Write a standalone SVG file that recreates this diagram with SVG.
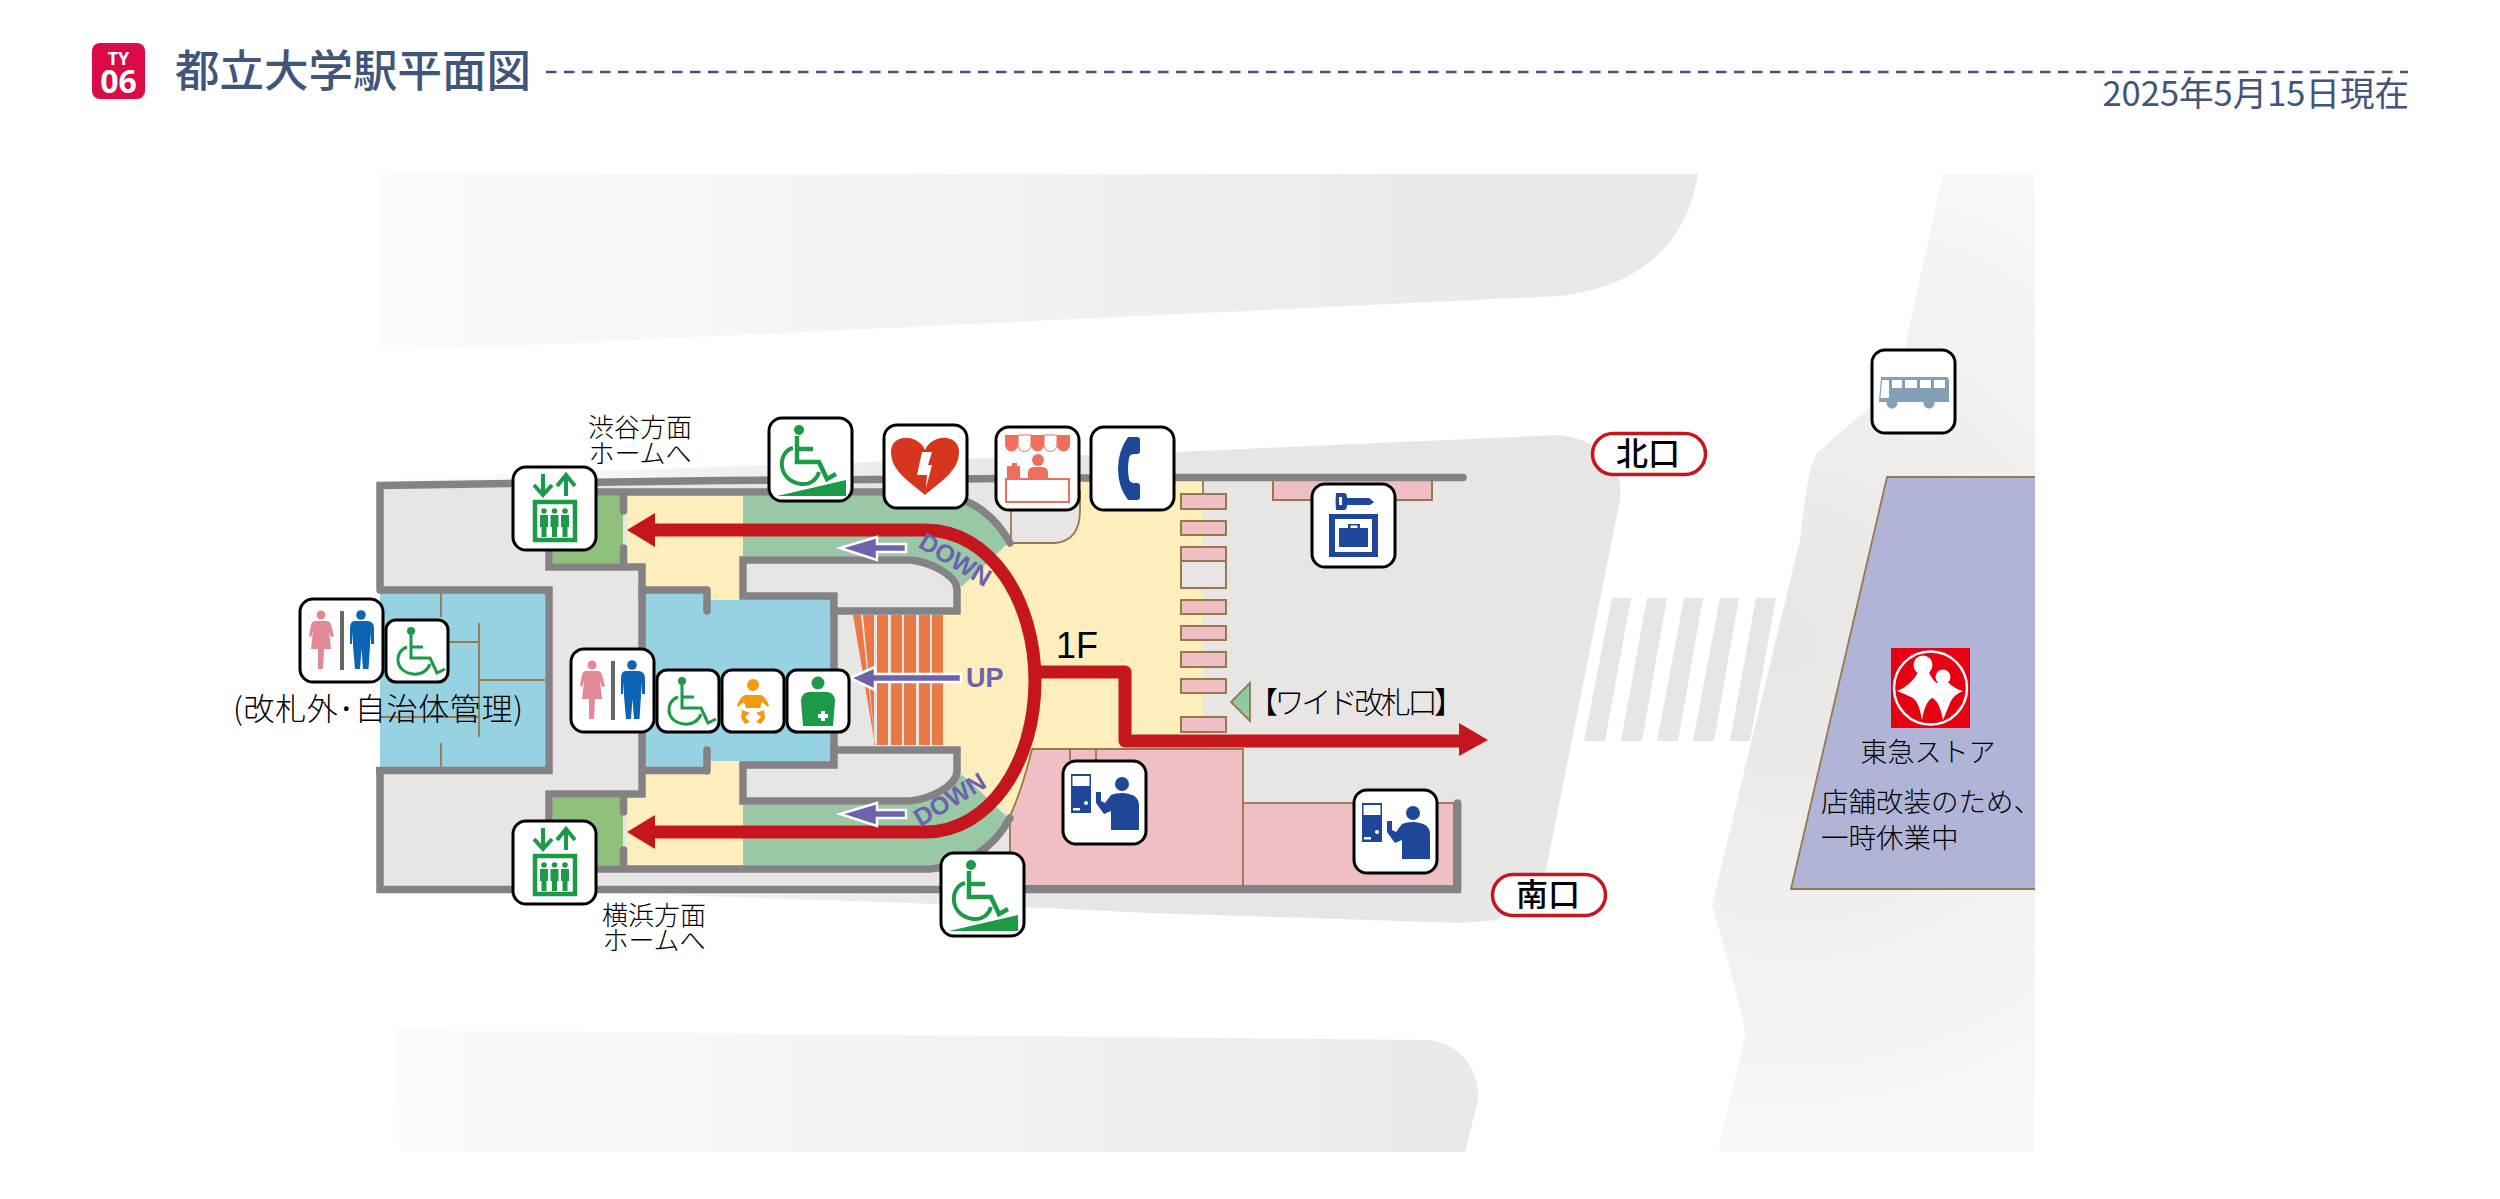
<svg xmlns="http://www.w3.org/2000/svg" xmlns:xlink="http://www.w3.org/1999/xlink" width="2500" height="1199" viewBox="0 0 2500 1199">
<style>
text{font-family:"Noto Sans CJK JP","Noto Sans",sans-serif;fill:#000}
.wall{fill:none;stroke:#848284;stroke-width:7.5;stroke-linejoin:miter}
.rc{stroke-linecap:round}
.line{stroke:#96794f;stroke-width:1.8;fill:none}
.gate{fill:#efbfc3;stroke:#96794f;stroke-width:2}
.route{fill:none;stroke:#c5161d;stroke-width:13;stroke-linejoin:round}
.rhead{fill:#c5161d}
.parrow{fill:#6f62ad;stroke:#fff;stroke-width:2.5;stroke-linejoin:miter}
.plabel{font-family:"Liberation Sans",sans-serif;font-weight:700;fill:#6f62ad}
.lab{font-size:26px;text-anchor:middle;font-weight:300}
.exitp{fill:#fff;stroke:#c5161d;stroke-width:3.5}
.exitt{font-size:32px;font-weight:500;text-anchor:middle;fill:#000}
.ib{fill:#fff;stroke:#000;stroke-width:3}
.g{fill:#1d9a48}.gs{fill:none;stroke:#1d9a48}
.b{fill:#1f4799}.s{fill:#ee6f5e}
</style>
<defs>
<linearGradient id="gMain" gradientUnits="userSpaceOnUse" x1="380" y1="0" x2="1050" y2="0"><stop offset="0" stop-color="#fff"/><stop offset="0.5" stop-color="#f3f1f0"/><stop offset="1" stop-color="#e8e6e5"/></linearGradient>
<linearGradient id="gRoad" gradientUnits="userSpaceOnUse" x1="380" y1="0" x2="1500" y2="0"><stop offset="0" stop-color="#fcfbfb"/><stop offset="1" stop-color="#ebe9e8"/></linearGradient>
<radialGradient id="gRight" gradientUnits="userSpaceOnUse" cx="1790" cy="640" r="520"><stop offset="0" stop-color="#e8e6e5"/><stop offset="1" stop-color="#f9f8f7"/></radialGradient>
<symbol id="i-ev" viewBox="0 0 83 83" overflow="visible">
 <rect class="ib" x="0" y="0" width="83" height="83" rx="13"/>
 <path class="gs" stroke-width="4" d="M30,7V26M21,18L30,28L39,18M53,29V9M44,19L53,8L62,19"/>
 <rect class="gs" stroke-width="4.5" x="22" y="35" width="40" height="38"/>
 <g class="g"><circle cx="31" cy="44" r="2.8"/><circle cx="41.5" cy="44" r="2.8"/><circle cx="52" cy="44" r="2.8"/>
 <path d="M27,48h8v12h-1.5v10h-5v-10H27zM37.5,48h8v12h-1.500v10h-5v-10H37.500zM48,48h8v12h-1.500v10h-5v-10H48z"/></g>
</symbol>
<symbol id="i-ramp" viewBox="0 0 83 83" overflow="visible">
 <rect class="ib" x="0" y="0" width="83" height="83" rx="13"/>
 <circle class="g" cx="30" cy="12" r="5"/>
 <path class="gs" stroke-width="4.500" d="M28,18V44H50L58,61L67,56M28,31H44"/>
 <path class="gs" stroke-width="4" d="M24,30C8,34 8,63 32,66C42,67 48,61 50,54"/>
 <path class="g" d="M8,78L77,62V78Z"/>
</symbol>
<symbol id="i-aed" viewBox="0 0 83 83" overflow="visible">
 <rect class="ib" x="0" y="0" width="83" height="83" rx="13"/>
 <path fill="#d6361d" d="M41,70C26,57 7,46 7,27C7,9 33,8 41,25C49,8 75,9 75,27C75,46 56,57 41,70Z"/>
 <path fill="#fff" d="M38,27H48L44,40H48L42,63L43,50H33Z"/>
</symbol>
<symbol id="i-shop" viewBox="0 0 83 83" overflow="visible">
 <rect class="ib" x="0" y="0" width="83" height="83" rx="13"/>
 <path class="s" d="M9,8H22V18a6.500,6.500 0 0 1 -13,0ZM35,8H48V18a6.500,6.500 0 0 1 -13,0ZM61,8H74V18a6.500,6.500 0 0 1 -13,0Z"/>
 <path fill="none" stroke="#ee6f5e" stroke-width="1" d="M22,8H35V18a6.500,6.500 0 0 1 -13,0ZM48,8H61V18a6.500,6.500 0 0 1 -13,0Z"/>
 <circle class="s" cx="42" cy="33" r="6"/>
 <path class="s" d="M32,52V46Q32,40 38,40H46Q52,40 52,46V52ZM11,39H16V36H21V39H24V52H11Z"/>
 <rect x="10" y="52" width="63" height="23" fill="#fff" stroke="#ee6f5e" stroke-width="2"/>
</symbol>
<symbol id="i-tel" viewBox="0 0 83 83" overflow="visible">
 <rect class="ib" x="0" y="0" width="83" height="83" rx="13"/>
 <path class="b" d="M37,10H46Q49,10 49,13V24Q49,27 46,27H43Q39,27 38,31Q36,42 38,52Q39,56 43,56H46Q49,56 49,59V70Q49,73 46,73H37Q27,60 27,42Q27,24 37,10Z"/>
</symbol>
<symbol id="i-locker" viewBox="0 0 83 83" overflow="visible">
 <rect class="ib" x="0" y="0" width="83" height="83" rx="13"/>
 <path class="b" d="M24,9H32Q35,9 35,14H57L62,18L58,21H35Q35,26 32,26H24Q23,17 24,9Z"/>
 <rect x="27" y="13" width="3" height="8" fill="#fff"/>
 <path class="b" fill-rule="evenodd" d="M17,30H66V73H17ZM23,35V68H60V35Z"/>
 <path class="b" d="M27,44H36V40H48V44H56V63H27Z"/>
 <rect x="38.500" y="41.500" width="7" height="2.500" fill="#fff"/>
</symbol>
<symbol id="i-ticket" viewBox="0 0 83 83" overflow="visible">
 <rect class="ib" x="0" y="0" width="83" height="83" rx="13"/>
 <path class="b" d="M8,13H28V52H8Z"/>
 <rect x="9.500" y="15" width="17" height="10" fill="#fff"/>
 <circle cx="23" cy="42" r="2" fill="#fff"/><rect x="10" y="47" width="7" height="2.500" fill="#fff"/>
 <circle class="b" cx="59" cy="23" r="7"/>
 <path class="b" d="M33,31H38V40L42,42L48,34Q52,32 60,32Q76,33 76,44V69H48V50L41,53L33,42Z"/>
</symbol>
<symbol id="i-bus" viewBox="0 0 83 83" overflow="visible">
 <rect class="ib" x="0" y="0" width="83" height="83" rx="13"/>
 <path fill="#84a0b6" d="M9,27H74Q77,27 77,31V52H7Z"/>
 <circle cx="20" cy="53" r="5.500" fill="#84a0b6"/><circle cx="57" cy="53" r="5.500" fill="#84a0b6"/>
 <path fill="#fff" d="M10,30H17V48H8.500ZM20,30H30V38H20ZM33,30H45V38H33ZM48,30H59V38H48ZM62,30H73V38H62Z"/>
</symbol>
<symbol id="i-wc" viewBox="0 0 83 83" overflow="visible">
 <rect class="ib" x="0" y="0" width="83" height="83" rx="13"/>
 <circle cx="21" cy="16" r="4.500" fill="#e38896"/>
 <path fill="#e38896" d="M15,22H27Q30,22 31,26L34,37L31,38L29,32L31,50H24L23,70H20L18,70V50H11L13,32L11,38L9,37L11,26Q12,22 15,22Z"/>
 <rect x="40" y="12" width="4" height="59" fill="#666"/>
 <circle cx="61" cy="16" r="4.800" fill="#0e64b4"/>
 <path fill="#0e64b4" d="M54,22H68Q74,23 74,29V45H71L70,33V47L68.500,70H63L61.500,50L60,70H55L53,47V33L52,45H50V29Q50,23 54,22Z"/>
</symbol>
<symbol id="i-whl" viewBox="0 0 62 62" overflow="visible">
 <rect class="ib" x="0" y="0" width="62" height="62" rx="10"/>
 <circle class="g" cx="25" cy="11" r="4"/>
 <path class="gs" stroke-width="3" d="M25,14V38H44L51,53L59,49M25,27H37"/>
 <path class="gs" stroke-width="3" d="M21,27C8,31 8,52 27,54C36,55 42,50 44,44"/>
</symbol>
<symbol id="i-baby" viewBox="0 0 62 62" overflow="visible">
 <rect class="ib" x="0" y="0" width="62" height="62" rx="10"/>
 <circle cx="31" cy="15" r="6" fill="#f39a13"/>
 <path fill="#f39a13" d="M23,25H39Q43,26 47,35L46,37L40,32L38,38H24L22,32L16,37L15,35Q19,26 23,25ZM20,40L28,43L23,47L28,52L23,54L19,48ZM42,40L34,43L39,47L34,52L39,54L43,48Z"/>
</symbol>
<symbol id="i-care" viewBox="0 0 62 62" overflow="visible">
 <rect class="ib" x="0" y="0" width="62" height="62" rx="10"/>
 <circle class="g" cx="31" cy="13" r="6.500"/>
 <path class="g" d="M21,22H41Q48,24 48,31L46,56H16L14,31Q14,24 21,22Z"/>
 <path fill="#fff" d="M34,41H38V44H41V48H38V51H34V48H31V44H34Z"/>
</symbol>
</defs>

<rect width="2500" height="1199" fill="#fff"/>

<g id="title">
 <rect x="92" y="43" width="53" height="56" rx="8" fill="#dc0a46"/>
 <text x="118.500" y="65" text-anchor="middle" font-size="18" font-weight="700" style="font-family:'Open Sans',sans-serif;fill:#fff">TY</text>
 <text x="118.500" y="93" text-anchor="middle" font-size="32" font-weight="700" style="font-family:'Open Sans',sans-serif;fill:#fff">06</text>
 <text x="175" y="87" font-size="44.500" font-weight="500" style="fill:#41547a">都立大学駅平面図</text>
 <line x1="546" y1="72" x2="2408" y2="72" stroke="#41547a" stroke-width="2.500" stroke-dasharray="10.500 7.500"/>
 <text x="2409" y="106" font-size="34.500" text-anchor="end" style="fill:#41547a">2025年5月15日現在</text>
</g>

<g id="surroundings">
 <path fill="url(#gRoad)" d="M380,174H1698C1688,235 1650,285 1560,296L382,352Z"/>
 <path fill="url(#gRoad)" d="M395,1030L1430,1040C1465,1045 1480,1075 1478,1100L1465,1152H400Z"/>
 <path fill="url(#gMain)" d="M380,478L1175,452L1560,435Q1625,445 1620,500L1546,870L1497,920L1460,923L1150,913L1023,907L380,885Z"/>
 <path fill="url(#gRight)" d="M1943,174H2035V1152H1718L1745,1036Q1745,1020 1712,905L1800,540Q1807,470 1817,453L1870,407L1905,347Z"/>
 <path fill="#e8e6e5" d="M1612,598H1631L1605,741H1584ZM1647,598H1667L1642,741H1621ZM1684,598H1703L1678,741H1657ZM1720,598H1739L1714,741H1693ZM1756,598H1776L1750,741H1730Z"/>
</g>

<g id="tokyu-store">
 <path fill="#b0b4d6" d="M1887,477H2035V889H1791Z"/>
 <path class="line" d="M2035,477H1887L1791,889H2035"/>
 <rect x="1891" y="648" width="79" height="80" fill="#e60012"/>
 <circle cx="1930.500" cy="688" r="36.500" fill="none" stroke="#fff" stroke-width="2.500"/>
 <circle cx="1923" cy="665" r="9.500" fill="#fff"/><circle cx="1943" cy="677" r="7.500" fill="#fff"/>
 <path fill="#fff" d="M1897,691Q1912,685 1918,672L1929,672Q1932,680 1937,683L1949,683Q1953,688 1963,691Q1953,695 1950,703L1943,720Q1939,700 1932,698Q1925,702 1922,720Q1919,702 1913,698Q1905,694 1897,691Z"/>
 <text x="1928" y="762" font-size="27" text-anchor="middle" font-weight="300">東急ストア</text>
 <text x="1821" y="812" font-size="27.500" font-weight="300">店舗改装のため、</text>
 <text x="1821" y="848" font-size="27.500" font-weight="300">一時休業中</text>
</g>

<g id="station-floor">
 <path fill="#e8e6e5" d="M380,486L720,480L1150,477.500L1203,477.500V893H380Z"/>
 <rect x="380" y="593" width="165" height="174" fill="#97d2e2"/>
 <path fill="#97d2e2" d="M645,593H707V597H834V764H707V770H645Z"/>
 <rect x="553" y="496" width="70" height="67" fill="#8fc07c"/>
 <rect x="553" y="798" width="70" height="67" fill="#8fc07c"/>
 <path fill="#fdeebb" d="M627,496H743V600H710V593H645V563H627Z"/>
 <path fill="#fdeebb" d="M627,865H743V761H710V768H645V798H627Z"/>
 <path fill="#98c8a6" d="M743,496H930Q985,501 1008,543L962,587C950,571 930,561 910,556H743Z"/>
 <path fill="#98c8a6" d="M743,865H930Q985,860 1008,818L962,774C950,790 930,800 910,805H743Z"/>
 <path fill="#fdeebb" d="M1010,481H1203V749H1032Q1022,790 1010,816L961,774V750H943V611H961V587L1010,543Z"/>
 <path fill="#e8e6e5" stroke="#96794f" stroke-width="1.800" d="M1011,490V543H1055Q1080,541 1080,510V490"/>
 <path fill="#e97a45" d="M853,615H861L875,745ZM863,615H874V745H875ZM877,615H888V745H877ZM891,615H902V745H891ZM904,615H916V745H904ZM919,615H930V745H919ZM932,615H943V745H932Z"/>
 <path fill="#efbfc3" stroke="#96794f" stroke-width="1.800" d="M1032,749H1243V886H1010V816Q1022,790 1032,749Z"/>
 <rect x="1243" y="803" width="211" height="83" fill="#efbfc3" stroke="#96794f" stroke-width="1.800"/>
 <path class="line" d="M1070,749V760M1096,749V760M1203,477V494"/>
 <rect class="gate" x="1273" y="478" width="159" height="22"/>
 <rect class="gate" x="1181" y="494" width="45" height="15"/>
 <rect class="gate" x="1181" y="521" width="45" height="14"/>
 <rect class="gate" x="1181" y="547" width="45" height="14"/>
 <rect x="1181" y="561" width="45" height="27" fill="#e8e6e5" stroke="#96794f" stroke-width="2"/>
 <rect class="gate" x="1181" y="600" width="45" height="14"/>
 <rect class="gate" x="1181" y="626" width="45" height="14"/>
 <rect class="gate" x="1181" y="652" width="45" height="15"/>
 <rect class="gate" x="1181" y="679" width="45" height="14"/>
 <rect class="gate" x="1181" y="717" width="45" height="15"/>
 <path fill="#8fc9a3" stroke="#96794f" stroke-width="1.800" d="M1231,702L1250,683V721Z"/>
 <path class="line" d="M441,593V617M479,623V737M445,642H479M479,680H545M380,717H479M441,743V767"/>
 <g id="walls">
  <path class="wall rc" d="M380,590V485.500L720,480.500L1150,477.500H1463"/>
  <path class="wall rc" d="M549,492H930Q985,497 1010,543"/>
  <path class="wall" d="M380,590H549V770.500H376"/>
  <path class="wall" d="M549,490V567H642V590H707"/>
  <path class="wall rc" d="M707,590V611M707,771V750M623.500,497V511M623.500,563V548M623.500,798V812M623.500,865V850"/>
  <path class="wall" d="M642,590V794H549V872"/>
  <path class="wall" d="M642,770.500H707"/>
  <path class="wall" d="M834,596V765"/>
  <path class="wall" style="fill:#e8e6e5" d="M743,560V596H834V611H957V590C957,575 930,562 910,560Z"/>
  <path class="wall" style="fill:#e8e6e5" d="M743,801V765H834V750H957V771C957,786 930,799 910,801Z"/>
  <path class="wall rc" d="M549,869H930Q985,864 1010,818"/>
  <path class="wall" d="M380,770.500V889.500H1457.500V803"/>
  <path class="wall rc" d="M1457.500,889.500V803"/>
 </g>
</g>

<g id="connectors">
 <path class="route" d="M650,530H925C990,530 1035,600 1035,681C1035,762 990,832 925,832H650"/>
 <path class="route" d="M1035,672H1125V741H1462"/>
 <path class="rhead" d="M627,530L655,513V547Z"/>
 <path class="rhead" d="M627,832L655,815V849Z"/>
 <path class="rhead" d="M1488,740L1459,723V756Z"/>
 <path class="parrow" d="M840,548L877,537V544H906V552H877V560Z"/>
 <path class="parrow" d="M840,814L877,803V810H906V818H877V826Z"/>
 <path class="parrow" d="M850,678L875,667V674H961V682H875V690Z"/>
</g>

<g id="labels">
 <text class="plabel" font-size="25" text-anchor="middle" transform="translate(955,560) rotate(31)" dy="8">DOWN</text>
 <text class="plabel" font-size="25" text-anchor="middle" transform="translate(950,800) rotate(-31)" dy="8">DOWN</text>
 <text class="plabel" font-size="27" x="966" y="687">UP</text>
 <text x="1056" y="658" font-size="36" style="font-family:'Liberation Sans',sans-serif">1F</text>
 <text class="lab" x="640" y="437">渋谷方面</text>
 <text class="lab" x="640" y="463">ホームへ</text>
 <text class="lab" x="654" y="925">横浜方面</text>
 <text class="lab" x="654" y="950">ホームへ</text>
 <text x="233" y="720" font-size="31" font-weight="300" textLength="290">(改札外･自治体管理)</text>
 <text x="1248" y="713" font-size="30" font-weight="300" textLength="216">【ワイド改札口】</text>
</g>

<g id="exit-north"><rect class="exitp" x="1592.500" y="433.500" width="113" height="41" rx="20.500"/><text class="exitt" x="1648" y="465">北口</text></g>
<g id="exit-south"><rect class="exitp" x="1492.500" y="874.500" width="113" height="41" rx="20.500"/><text class="exitt" x="1548" y="906">南口</text></g>

<g id="ev-top"><use href="#i-ev" x="513" y="467" width="83" height="83"/></g>
<g id="ev-bottom"><use href="#i-ev" x="513" y="821" width="83" height="83"/></g>
<g id="ramp-top"><use href="#i-ramp" x="769" y="418" width="83" height="83"/></g>
<g id="ramp-bottom"><use href="#i-ramp" x="941" y="853" width="83" height="83"/></g>
<g id="aed"><use href="#i-aed" x="884" y="425" width="83" height="83"/></g>
<g id="shop"><use href="#i-shop" x="996" y="427" width="83" height="83"/></g>
<g id="telephone"><use href="#i-tel" x="1091" y="427" width="83" height="83"/></g>
<g id="locker"><use href="#i-locker" x="1312" y="484" width="83" height="83"/></g>
<g id="ticket-1"><use href="#i-ticket" x="1063" y="761" width="83" height="83"/></g>
<g id="ticket-2"><use href="#i-ticket" x="1354" y="790" width="83" height="83"/></g>
<g id="bus"><use href="#i-bus" x="1872" y="350" width="83" height="83"/></g>
<g id="wc-left"><use href="#i-wc" x="300" y="599" width="83" height="83"/></g>
<g id="accessible-left"><use href="#i-whl" x="386" y="620" width="62" height="62"/></g>
<g id="wc-inner"><use href="#i-wc" x="571" y="649" width="83" height="83"/></g>
<g id="accessible-inner"><use href="#i-whl" x="657" y="670" width="62" height="62"/></g>
<g id="baby"><use href="#i-baby" x="722" y="670" width="62" height="62"/></g>
<g id="care"><use href="#i-care" x="787" y="670" width="62" height="62"/></g>
</svg>
